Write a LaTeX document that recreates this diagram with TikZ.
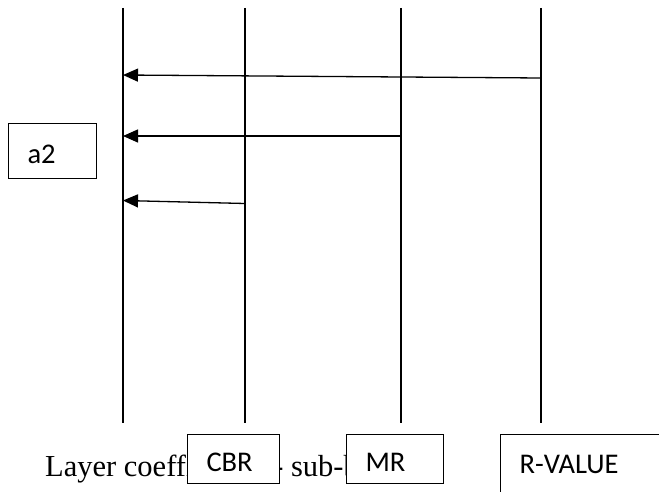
\documentclass[tikz,border=0pt]{standalone}
\usepackage{fontspec}
\setmainfont{Liberation Serif}
\newfontfamily\boxfont{Carlito}
\usetikzlibrary{arrows.meta,positioning}

\begin{document}
\begin{tikzpicture}[x=1pt,y=-1pt,
  life line/.style={line width=1.3pt},
  msg/.style={line width=1.3pt,-{Triangle[length=15pt,width=13pt]}},
  label box/.style={draw,fill=white,line width=1.1pt,anchor=north west,align=left,
    inner xsep=19pt,inner ysep=0pt,text height=25pt,text depth=0pt,
    font=\boxfont\fontsize{28.5}{34}\selectfont},
  caption text/.style={anchor=base west,inner sep=0pt,font=\fontsize{30.5}{36}\selectfont}]
  \useasboundingbox (0,0) rectangle (659,492);
  \clip (0,0) rectangle (659,492);

  % vertical lines
  \foreach \name/\x in {a/123,c/245,m/401,r/541}{
    \coordinate (\name top) at (\x,8);
    \coordinate (\name bot) at (\x,423);
    \draw[life line] (\name top) -- (\name bot);
  }

  % arrows to the first line
  \coordinate (r src) at (541,78);
  \coordinate (a tgt1) at (123,75);
  \coordinate (m src) at (401,136);
  \coordinate (a tgt2) at (123,136);
  \coordinate (c src) at (245,203.5);
  \coordinate (a tgt3) at (123,200.5);
  \draw[msg] (r src) -- (a tgt1);
  \draw[msg] (m src) -- (a tgt2);
  \draw[msg] (c src) -- (a tgt3);

  \node[caption text] (cap) at (45,476) {Layer coefficients - sub-base};

  \node[label box,minimum width=88pt,minimum height=55pt,text width=50pt] (a2) at (8,123) {a2};
  \node[label box,minimum width=92pt,minimum height=49pt,text width=54pt] (cbr) at (187,434) {CBR};
  \node[label box,minimum width=97pt,minimum height=49pt,text width=59pt] (mr) at (346,434) {MR};
  \node[label box,minimum width=170pt,minimum height=80pt,text width=132pt,
        text height=26pt,text depth=28pt] (rval) at (500,434) {R-VALUE};
\end{tikzpicture}
\end{document}
